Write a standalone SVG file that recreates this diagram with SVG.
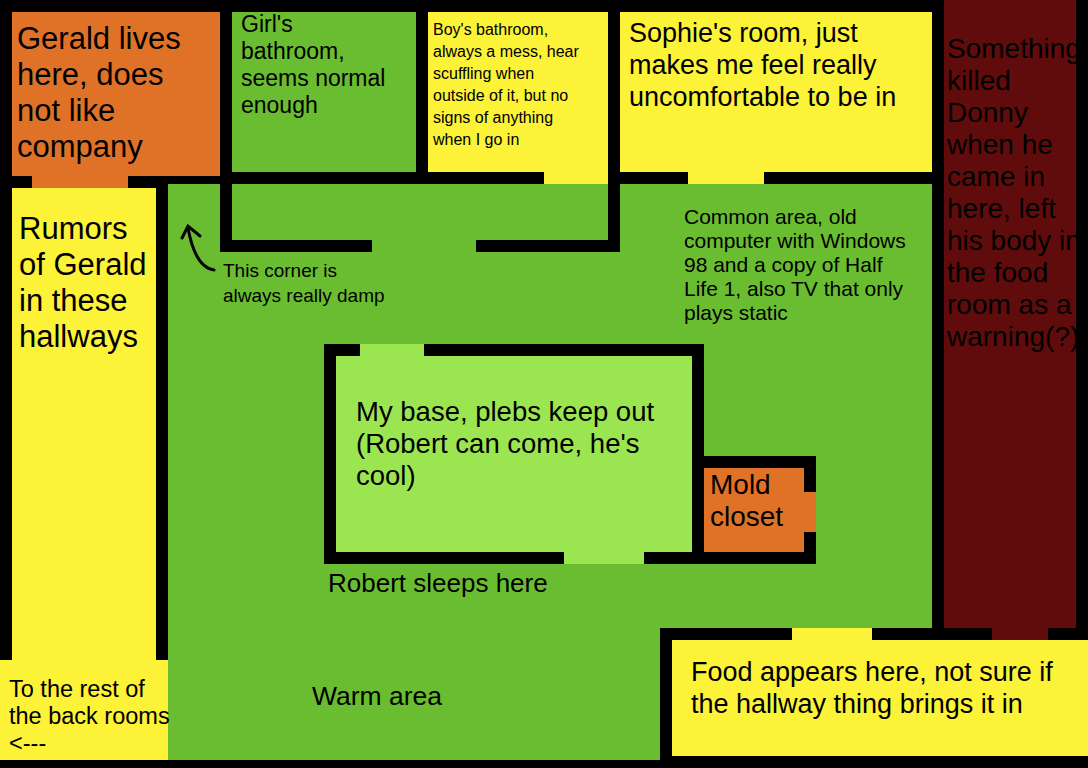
<svg xmlns="http://www.w3.org/2000/svg" width="1088" height="768" viewBox="0 0 1088 768">
<style>
text{font-family:"Liberation Sans",Arial,sans-serif;fill:#000}
.g{fill:#6abd30}.y{fill:#fcf238}.o{fill:#e07228}.r{fill:#600c0c}.l{fill:#9be650}
.big{font-size:28px}.md{font-size:22px}.sm{font-size:18px}.xs{font-size:16px}
</style>
<rect width="1088" height="768" fill="#000"/>
<g id="common-area"><rect class="g" x="168" y="184" width="764" height="576"/></g>
<rect class="g" x="232" y="184" width="376" height="56"/>
<rect fill="#000" x="220" y="12" width="12" height="240"/>
<rect fill="#000" x="220" y="240" width="152" height="12"/>
<rect fill="#000" x="476" y="240" width="144" height="12"/>
<rect fill="#000" x="608" y="12" width="12" height="240"/>
<rect fill="#000" x="296" y="172" width="248" height="12"/>
<rect fill="#000" x="620" y="172" width="68" height="12"/>
<rect fill="#000" x="764" y="172" width="168" height="12"/>
<g id="gerald"><rect class="o" x="12" y="12" width="208" height="164"/><rect class="o" x="32" y="176" width="96" height="12"/>
<text class="big" x="17" y="49" style="font-size:31px">Gerald lives</text><text class="big" x="17" y="85" style="font-size:31px">here, does</text><text class="big" x="17" y="121" style="font-size:31px">not like</text><text class="big" x="17" y="157" style="font-size:31px">company</text></g>
<g id="girls"><rect class="g" x="232" y="12" width="184" height="160"/>
<text class="md" x="241" y="32" style="font-size:23px">Girl's</text><text class="md" x="241" y="59" style="font-size:23px">bathroom,</text><text class="md" x="241" y="86" style="font-size:23px">seems normal</text><text class="md" x="241" y="113" style="font-size:23px">enough</text></g>
<g id="boys"><rect class="y" x="428" y="12" width="180" height="160"/><rect class="y" x="544" y="172" width="64" height="12"/>
<text class="xs" x="433" y="35">Boy's bathroom,</text><text class="xs" x="433" y="57">always a mess, hear</text><text class="xs" x="433" y="79">scuffling when</text><text class="xs" x="433" y="101">outside of it, but no</text><text class="xs" x="433" y="123">signs of anything</text><text class="xs" x="433" y="145">when I go in</text></g>
<g id="sophie"><rect class="y" x="620" y="12" width="312" height="160"/><rect class="y" x="688" y="172" width="76" height="12"/>
<text class="big" x="629" y="42" style="font-size:27px">Sophie's room, just</text><text class="big" x="629" y="74" style="font-size:27px">makes me feel really</text><text class="big" x="629" y="106" style="font-size:27px">uncomfortable to be in</text></g>
<g id="donny"><rect class="r" x="944" y="0" width="132" height="628"/><rect class="r" x="992" y="628" width="56" height="12"/>
<text class="big" x="947" y="58">Something</text><text class="big" x="947" y="90">killed</text><text class="big" x="947" y="122">Donny</text><text class="big" x="947" y="154">when he</text><text class="big" x="947" y="186">came in</text><text class="big" x="947" y="218">here, left</text><text class="big" x="947" y="250">his body in</text><text class="big" x="947" y="282">the food</text><text class="big" x="947" y="314">room as a</text><text class="big" x="947" y="346">warning(?)</text></g>
<g id="rumors"><rect class="y" x="12" y="188" width="144" height="472"/><rect class="y" x="0" y="660" width="168" height="100"/>
<text class="big" x="19" y="239" style="font-size:31px">Rumors</text><text class="big" x="19" y="275" style="font-size:31px">of Gerald</text><text class="big" x="19" y="311" style="font-size:31px">in these</text><text class="big" x="19" y="347" style="font-size:31px">hallways</text>
<text class="md" x="9" y="697" style="font-size:23.5px">To the rest of</text><text class="md" x="9" y="724" style="font-size:23.5px">the back rooms</text><text class="md" x="9" y="751" style="font-size:23.5px">&lt;---</text></g>
<g id="food"><rect fill="#000" x="660" y="628" width="428" height="140"/><rect class="y" x="672" y="640" width="416" height="116"/><rect class="y" x="792" y="628" width="80" height="12"/><rect class="r" x="992" y="628" width="56" height="12"/>
<text class="big" x="691" y="681" style="font-size:27px">Food appears here, not sure if</text><text class="big" x="691" y="713" style="font-size:27px">the hallway thing brings it in</text></g>
<g id="base"><rect fill="#000" x="324" y="344" width="380" height="220"/><rect class="l" x="336" y="356" width="356" height="196"/><rect class="l" x="360" y="344" width="64" height="12"/><rect class="l" x="564" y="552" width="80" height="12"/>
<text class="big" x="356" y="421" style="font-size:27.5px">My base, plebs keep out</text><text class="big" x="356" y="453" style="font-size:27.5px">(Robert can come, he's</text><text class="big" x="356" y="485" style="font-size:27.5px">cool)</text></g>
<g id="mold"><rect fill="#000" x="692" y="456" width="124" height="108"/><rect class="o" x="704" y="468" width="100" height="84"/><rect class="o" x="804" y="492" width="12" height="40"/>
<text class="big" x="710" y="494">Mold</text><text class="big" x="710" y="526">closet</text></g>
<g id="labels">
<text class="md" x="684" y="224" style="font-size:21px">Common area, old</text><text class="md" x="684" y="248" style="font-size:21px">computer with Windows</text><text class="md" x="684" y="272" style="font-size:21px">98 and a copy of Half</text><text class="md" x="684" y="296" style="font-size:21px">Life 1, also TV that only</text><text class="md" x="684" y="320" style="font-size:21px">plays static</text>
<text class="sm" x="223" y="277" style="font-size:19px">This corner is</text><text class="sm" x="223" y="302" style="font-size:19px">always really damp</text>
<text class="big" x="328" y="592" style="font-size:26px">Robert sleeps here</text>
<text class="big" x="312" y="705" style="font-size:26.5px">Warm area</text></g>
<g id="connectors" fill="none" stroke="#000" stroke-width="3" stroke-linecap="round">
<path d="M214 270 C200 268 192 250 188 228"/><path d="M182 238 L188 226 L200 236"/></g>
</svg>
